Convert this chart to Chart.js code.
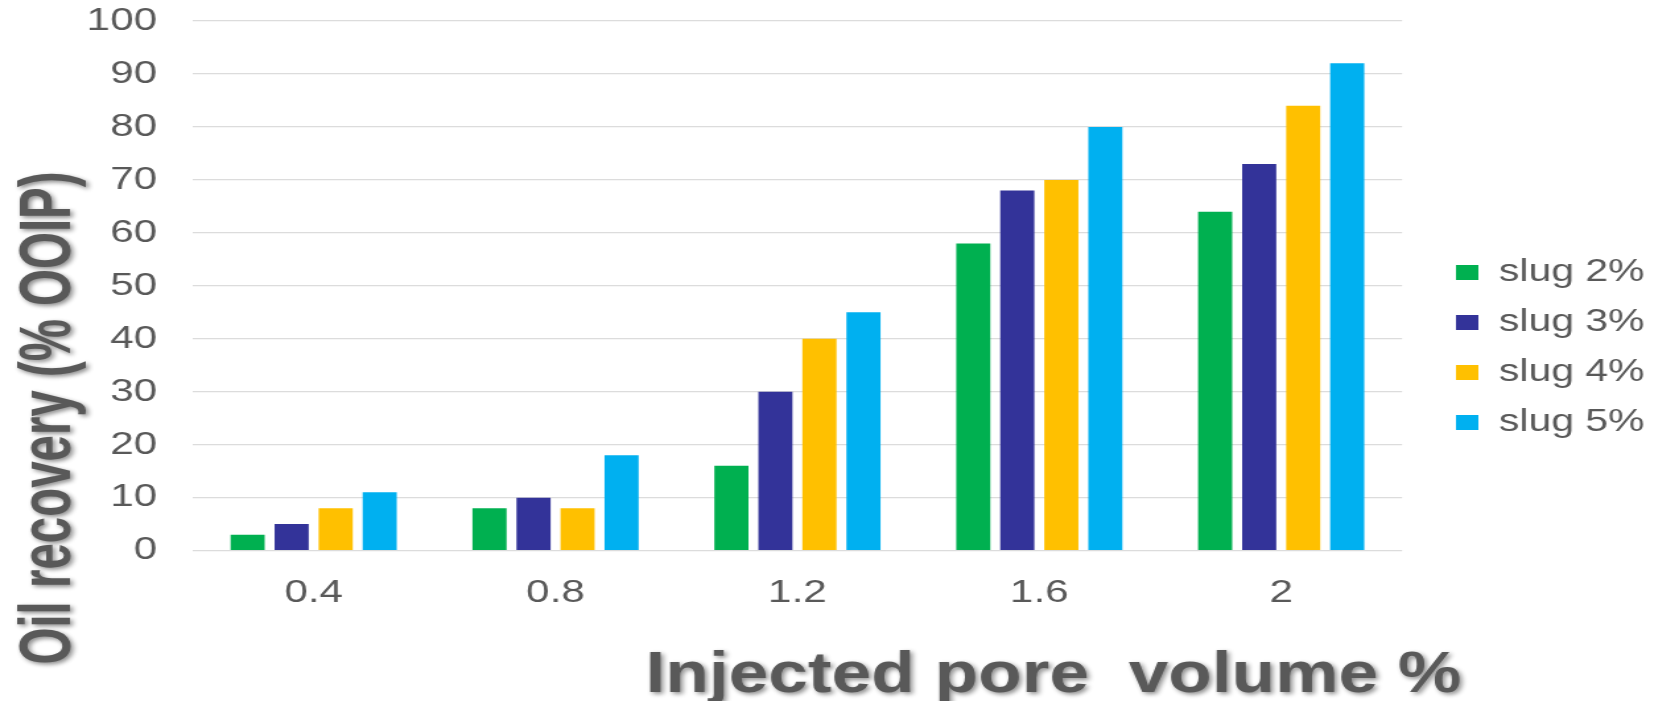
<!DOCTYPE html>
<html>
<head>
<meta charset="utf-8">
<title>Oil recovery vs injected pore volume</title>
<script src="https://cdn.jsdelivr.net/npm/chart.js@4.4.1/dist/chart.umd.min.js"></script>
<style>
    html, body { margin: 0; padding: 0; background: #fff; overflow: hidden; }
    /* the source picture is stretched sideways, so the whole chart is too */
    #wrap { width: 1253px; height: 701px; transform: scaleX(1.32); transform-origin: 0 0; }
</style>
</head>
<body>
<div id="wrap"><canvas id="recoveryChart" width="1253" height="701"></canvas></div>
<script>
const categories = ['0.4', '0.8', '1.2', '1.6', '2'];
const slug2 = [3, 8, 16, 58, 64];
const slug3 = [5, 10, 30, 68, 73];
const slug4 = [8, 8, 40, 70, 84];
const slug5 = [11, 18, 45, 80, 92];
const seriesNames = ['slug 2%', 'slug 3%', 'slug 4%', 'slug 5%'];
const seriesColors = ['#00b050', '#333399', '#ffc000', '#00b0f0'];
const yMin = 0;
const yMax = 100;
const yStep = 10;
const yTitle = 'Oil recovery (% OOIP)';
const xTitle = 'Injected pore  volume %';

const FONT = '"Liberation Sans", Arial, sans-serif';
const TEXT = '#595959';

// big bold titles with a soft drop shadow, squeezed to the length seen in the picture
const axisTitles = {
    id: 'axisTitles',
    afterDraw(chart) {
        const { ctx } = chart;
        ctx.save();
        ctx.fillStyle = TEXT;
        ctx.shadowColor = 'rgba(0, 0, 0, 0.45)';
        ctx.shadowBlur = 4;
        ctx.shadowOffsetX = 2;
        ctx.shadowOffsetY = 2;
        ctx.textAlign = 'center';
        ctx.textBaseline = 'alphabetic';

        ctx.save();
        ctx.font = `bold 55px ${FONT}`;
        ctx.translate(53, 418);
        ctx.rotate(-Math.PI / 2);
        ctx.scale(493 / ctx.measureText(yTitle).width, 1);
        ctx.fillText(yTitle, 0, 0);
        ctx.restore();

        ctx.save();
        ctx.font = `bold 58px ${FONT}`;
        ctx.translate(798, 692);
        ctx.scale(618 / ctx.measureText(xTitle).width, 1);
        ctx.fillText(xTitle, 0, 0);
        ctx.restore();

        ctx.restore();
    }
};

// move the legend block to where the picture has it
const legendNudge = {
    id: 'legendNudge',
    afterLayout(chart) {
        const lg = chart.legend;
        if (!lg) return;
        const dx = 1104 - (lg.left + 20);
        const dy = 258 - (lg.top + 20);
        lg.left += dx;
        lg.right += dx;
        lg.top += dy;
        lg.bottom += dy;
    }
};

const seriesValues = [slug2, slug3, slug4, slug5];

new Chart(document.getElementById('recoveryChart'), {
    type: 'bar',
    data: {
        labels: categories,
        datasets: seriesNames.map((name, i) => ({
            label: name,
            data: seriesValues[i],
            backgroundColor: seriesColors[i],
            borderWidth: 0,
            categoryPercentage: 0.728,
            barPercentage: 0.775
        }))
    },
    options: {
        responsive: false,
        animation: false,
        layout: {
            padding: { top: 21, right: 19, bottom: 66, left: 0 }
        },
        scales: {
            x: {
                grid: { display: false, drawTicks: false },
                border: { display: false },
                ticks: {
                    color: TEXT,
                    padding: 23,
                    font: { family: FONT, size: 32 }
                }
            },
            y: {
                min: yMin,
                max: yMax,
                grid: { color: '#dcdcdc', lineWidth: 1.3, drawTicks: false },
                border: { display: false },
                ticks: {
                    stepSize: yStep,
                    color: TEXT,
                    padding: 27,
                    font: { family: FONT, size: 32 }
                },
                afterFit: (scale) => {
                    scale.width = 146;
                    scale.paddingTop = 0;
                    scale.paddingBottom = 0;
                }
            }
        },
        plugins: {
            legend: {
                position: 'right',
                align: 'start',
                labels: {
                    color: TEXT,
                    boxWidth: 17,
                    boxHeight: 15,
                    padding: 19,
                    font: { family: FONT, size: 31 }
                }
            },
            tooltip: { enabled: false }
        }
    },
    plugins: [axisTitles, legendNudge]
});
</script>
</body>
</html>
